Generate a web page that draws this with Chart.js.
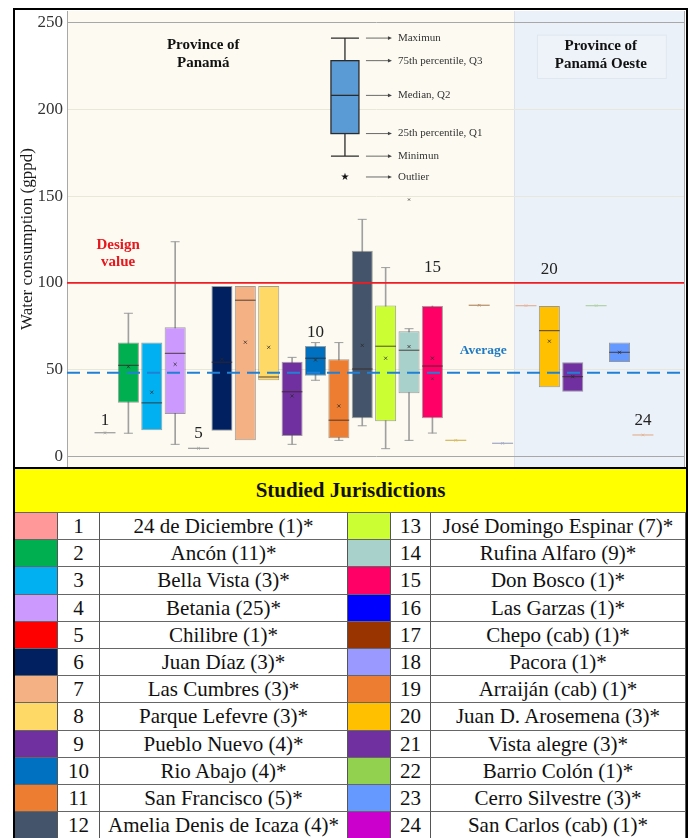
<!DOCTYPE html>
<html>
<head>
<meta charset="utf-8">
<title>Water consumption by jurisdiction</title>
<script src="https://cdn.jsdelivr.net/npm/chart.js@4.4.1/dist/chart.umd.min.js"></script>
<style>
  html, body { margin: 0; padding: 0; background: #fff; }
  body { width: 691px; height: 838px; position: relative; overflow: hidden;
         font-family: "Liberation Serif", "Times New Roman", serif; color: #111; }
  #chartWrap { position: absolute; left: 0; top: 0; width: 691px; height: 467px; }
  #frame { position: absolute; left: 13px; top: 8px; width: 675px; height: 834px;
           border: 2px solid #000; box-sizing: border-box; pointer-events: none; }
  #legendGrid { position: absolute; left: 15px; top: 467px; width: 671px;
                display: grid; grid-template-columns: 43px 42px 248px 43px 40px 255px;
                grid-template-rows: 44px repeat(12, 27.2px);
                border-top: 2px solid #000; }
  #legendGrid div { box-sizing: border-box; border-right: 1px solid #555; border-bottom: 1px solid #666;
                    text-align: center; font-size: 21px; line-height: 26px; white-space: nowrap; overflow: hidden; }
  #legendGrid .head { grid-column: 1 / 7; background: #ffff00; font-weight: bold; font-size: 21px;
                      line-height: 43px; border-right: none; }
</style>
</head>
<body>
<div id="chartWrap"><canvas id="chart" width="691" height="467"></canvas></div>
<div id="legendGrid"></div>
<div id="frame"></div>
<script>
// ---- jurisdictions and sample counts ----
const categories = [
  "24 de Diciembre", "Ancón", "Bella Vista", "Betania", "Chilibre", "Juan Díaz",
  "Las Cumbres", "Parque Lefevre", "Pueblo Nuevo", "Rio Abajo", "San Francisco", "Amelia Denis de Icaza",
  "José Domingo Espinar", "Rufina Alfaro", "Don Bosco", "Las Garzas", "Chepo (cab)", "Pacora",
  "Arraiján (cab)", "Juan D. Arosemena", "Vista alegre", "Barrio Colón", "Cerro Silvestre", "San Carlos (cab)"
];
const sampleSizes = [1, 11, 3, 25, 1, 3, 3, 3, 4, 4, 5, 4, 7, 9, 1, 1, 1, 1, 1, 3, 3, 1, 3, 1];

// ---- box statistics, water consumption in gppd ----
const minValues    = [13.7, 13.4, 15.1,   7.0, 4.7, 14.9,  9.3, 43.9,  7.0, 43.9,  9.3,  17.7,   4.5,  9.3, 13.5, 9.3, 87.1, 7.6, 86.9, 39.9, 37.3, 86.9, 54.4, 12.4];
const q1Values     = [13.7, 31.0, 15.1,  24.5, 4.7, 14.9,  9.3, 43.9, 11.8, 46.5, 10.5,  22.0,  20.3, 36.4, 22.0, 9.3, 87.1, 7.6, 86.9, 39.9, 37.3, 86.9, 54.4, 12.4];
const medianValues = [13.7, 52.5, 30.9,  59.4, 4.7, 54.3, 90.0, 45.8, 37.3, 56.6, 20.9,  50.4,  63.5, 61.2, 52.1, 9.3, 87.1, 7.6, 86.9, 72.5, 46.0, 86.9, 60.0, 12.4];
const q3Values     = [13.7, 65.6, 65.6,  74.4, 4.7, 98.2, 98.2, 98.2, 54.6, 63.7, 56.0, 118.5,  86.9, 72.1, 86.7, 9.3, 87.1, 7.6, 86.9, 86.7, 54.3, 86.9, 65.6, 12.4];
const maxValues    = [13.7, 82.5, 65.6, 123.7, 4.7, 98.2, 98.2, 98.2, 57.1, 65.6, 65.6, 136.6, 108.8, 73.6, 86.7, 9.3, 87.1, 7.6, 86.9, 86.7, 54.3, 86.9, 65.6, 12.4];
const meanValues   = [13.7, 51.7, 37.0,  53.1, 4.7, 56.0, 65.8, 62.9, 34.9, 55.6, 29.1,  64.0,  56.6, 63.3, 56.6, 9.3, 87.1, 7.6, 86.9, 66.4, 46.0, 86.9, 60.0, 12.4];
const outlierPoints = [{ x: 14, y: 148.0 }, { x: 15, y: 44.8 }];

// reference levels
const designValue = 100;
const averageValue = 48.3;
const yTicks = [0, 50, 100, 150, 200, 250];

// key box (explanatory sketch): min, Q1, median, Q3, max, outlier
const keyStats = [173, 186, 208, 228, 241];
const keyOutlier = 161;
const keyLabels = ["Minimun", "25th percentile, Q1", "Median, Q2", "75th percentile, Q3", "Maximun"];

// ---- styling ----
const boxColors = [
  "#ff9999", "#00b050", "#00b0f0", "#cc99ff", "#ff0000", "#002060",
  "#f4b183", "#ffd966", "#7030a0", "#0070c0", "#ed7d31", "#44546a",
  "#ccff33", "#a9d1cc", "#ff0066", "#0000ff", "#993300", "#9999ff",
  "#ed7d31", "#ffc000", "#7030a0", "#92d050", "#6699ff", "#cc00cc"
];
// tint used for the flat (single-sample) markers on the plot
const flatTints = {
  1: "#a0a0a0", 5: "#a0a0a0", 16: "#d6bd66", 17: "#b99370",
  18: "#a6abc8", 19: "#e6b6a2", 22: "#b4d3ac", 24: "#e2b69e"
};
const X_MIN = -0.625, X_MAX = 25.8, REGION_SPLIT = 18.49;
const SERIF = '"Liberation Serif", "Times New Roman", serif';

// ---- derived datasets ----
const idx = categories.map((_, i) => i + 1);
const isFlat = i => minValues[i] === maxValues[i];
const boxIdx = idx.filter(n => !isFlat(n - 1));
const flatIdx = idx.filter(n => isFlat(n - 1));
const whiskIdx = boxIdx.filter(n => minValues[n - 1] < q1Values[n - 1] || maxValues[n - 1] > q3Values[n - 1]);

const whiskerData = whiskIdx.map(n => ({ x: n, y: [minValues[n - 1], maxValues[n - 1]] }));
const capData = [];
whiskIdx.forEach(n => {
  if (minValues[n - 1] < q1Values[n - 1]) capData.push({ x: n, y: minValues[n - 1] });
  if (maxValues[n - 1] > q3Values[n - 1]) capData.push({ x: n, y: maxValues[n - 1] });
});
const boxData = boxIdx.map(n => ({ x: n, y: [q1Values[n - 1], q3Values[n - 1]] }));
const medianData = boxIdx.map(n => ({ x: n, y: medianValues[n - 1] }));
const meanData = boxIdx.map(n => ({ x: n, y: meanValues[n - 1] }));
const flatData = flatIdx.map(n => ({ x: n, y: medianValues[n - 1] }));

// ---- decorations drawn with the chart's scales ----
const scenery = {
  id: 'scenery',
  beforeDraw(chart, args, o) {
    const { ctx, chartArea: a, scales: { x, y } } = chart;
    ctx.save();
    ctx.fillStyle = '#ffffff';
    ctx.fillRect(0, 0, chart.width, chart.height);
    const s = x.getPixelForValue(o.split);
    ctx.fillStyle = '#fdfbf1';
    ctx.fillRect(a.left, a.top, s - a.left, a.bottom - a.top);
    ctx.fillStyle = '#ebf1f8';
    ctx.fillRect(s, a.top, a.right - s, a.bottom - a.top);
    ctx.strokeStyle = '#dde2ea';
    ctx.lineWidth = 1;
    ctx.beginPath(); ctx.moveTo(Math.round(s) + 0.5, a.top); ctx.lineTo(Math.round(s) + 0.5, a.bottom); ctx.stroke();
    // heading panel in the right region
    const px0 = x.getPixelForValue(o.oestePanel[0]), px1 = x.getPixelForValue(o.oestePanel[1]);
    const py0 = y.getPixelForValue(o.oestePanel[2]), py1 = y.getPixelForValue(o.oestePanel[3]);
    ctx.fillStyle = '#eef3fa';
    ctx.fillRect(px0, py0, px1 - px0, py1 - py0);
    ctx.strokeStyle = '#e1e7ef';
    ctx.strokeRect(px0 + 0.5, py0 + 0.5, px1 - px0, py1 - py0);
    ctx.restore();
  },
  afterDatasetsDraw(chart, args, o) {
    const { ctx, chartArea: a, scales: { x, y } } = chart;
    ctx.save();
    // right edge of the plot
    ctx.strokeStyle = '#a8a8a8';
    ctx.lineWidth = 1;
    ctx.beginPath(); ctx.moveTo(a.right - 0.5, a.top); ctx.lineTo(a.right - 0.5, a.bottom); ctx.stroke();

    // text notes
    ctx.textAlign = 'center';
    ctx.textBaseline = 'middle';
    o.notes.forEach(n => {
      ctx.font = n.font;
      ctx.fillStyle = n.color;
      const cx = x.getPixelForValue(n.x);
      const cy = y.getPixelForValue(n.y);
      n.lines.forEach((t, k) => ctx.fillText(t, cx, cy + k * (n.gap || 0)));
    });

    // key box sketch
    const cx = x.getPixelForValue(o.keyX);
    const hw = 14;
    const [kMin, kQ1, kMed, kQ3, kMax] = keyStats.map(v => y.getPixelForValue(v));
    ctx.strokeStyle = '#2b2b2b';
    ctx.lineWidth = 1.3;
    ctx.beginPath();
    ctx.moveTo(cx, kMax); ctx.lineTo(cx, kQ3);
    ctx.moveTo(cx, kQ1); ctx.lineTo(cx, kMin);
    ctx.moveTo(cx - hw, kMax); ctx.lineTo(cx + hw, kMax);
    ctx.moveTo(cx - hw, kMin); ctx.lineTo(cx + hw, kMin);
    ctx.stroke();
    ctx.fillStyle = '#5b9bd5';
    ctx.fillRect(cx - hw, kQ3, 2 * hw, kQ1 - kQ3);
    ctx.strokeRect(cx - hw, kQ3, 2 * hw, kQ1 - kQ3);
    ctx.beginPath(); ctx.moveTo(cx - hw, kMed); ctx.lineTo(cx + hw, kMed); ctx.stroke();
    const kOut = y.getPixelForValue(keyOutlier);
    ctx.fillStyle = '#111';
    ctx.font = '10px "DejaVu Sans", sans-serif';
    ctx.fillText('★', cx, kOut);

    const rows = [[kMax, keyLabels[4]], [kQ3, keyLabels[3]], [kMed, keyLabels[2]],
                  [kQ1, keyLabels[1]], [kMin, keyLabels[0]], [kOut, 'Outlier']];
    ctx.font = '11px ' + SERIF;
    ctx.textAlign = 'left';
    rows.forEach(([py, label]) => {
      const x0 = cx + 21, x1 = cx + 45;
      ctx.strokeStyle = '#444';
      ctx.lineWidth = 0.8;
      ctx.beginPath(); ctx.moveTo(x0, py); ctx.lineTo(x1, py); ctx.stroke();
      ctx.fillStyle = '#444';
      ctx.beginPath(); ctx.moveTo(x1 + 2, py); ctx.lineTo(x1 - 2, py - 1.8); ctx.lineTo(x1 - 2, py + 1.8); ctx.closePath(); ctx.fill();
      ctx.fillStyle = '#333';
      ctx.fillText(label, cx + 53, py);
    });
    ctx.restore();
  }
};

// ---- table of studied jurisdictions ----
(function buildTable() {
  const grid = document.getElementById('legendGrid');
  const head = document.createElement('div');
  head.className = 'head';
  head.textContent = 'Studied Jurisdictions';
  grid.appendChild(head);
  const half = categories.length / 2;
  for (let r = 0; r < half; r++) {
    [r, r + half].forEach(i => {
      const sw = document.createElement('div');
      sw.style.background = boxColors[i];
      const num = document.createElement('div');
      num.textContent = String(i + 1);
      const name = document.createElement('div');
      name.textContent = categories[i] + ' (' + sampleSizes[i] + ')*';
      grid.appendChild(sw); grid.appendChild(num); grid.appendChild(name);
    });
  }
})();

// scales keep the plot area exactly where the layout padding puts it
const noOverflow = s => { s.paddingTop = 0; s.paddingBottom = 0; s.paddingLeft = 0; s.paddingRight = 0; };

// ---- chart ----
const darkStroke = 'rgba(80,80,80,0.55)';
new Chart(document.getElementById('chart'), {
  type: 'bar',
  data: {
    datasets: [
      {
        type: 'line', label: 'Design value',
        data: [{ x: X_MIN, y: designValue }, { x: X_MAX, y: designValue }],
        borderColor: '#ee1d23', borderWidth: 1.6, pointRadius: 0, order: 0
      },
      {
        type: 'line', label: 'Average',
        data: [{ x: X_MIN, y: averageValue }, { x: X_MAX, y: averageValue }],
        borderColor: '#1f80d6', borderWidth: 2, borderDash: [13, 7], pointRadius: 0, order: 0
      },
      {
        type: 'scatter', label: 'Mean',
        data: meanData,
        pointStyle: 'crossRot', pointRadius: 2.2, pointBorderWidth: 0.9,
        pointBorderColor: 'rgba(40,40,40,0.8)', pointBackgroundColor: 'transparent', order: 1
      },
      {
        type: 'scatter', label: 'Outliers',
        data: outlierPoints,
        pointStyle: 'crossRot', pointRadius: 1.6, pointBorderWidth: 0.9,
        pointBorderColor: 'rgba(60,60,60,0.8)', order: 1
      },
      {
        type: 'scatter', label: 'Median',
        data: medianData,
        pointStyle: 'line', pointRadius: 10.3, pointBorderWidth: 1.2,
        pointBorderColor: 'rgba(55,40,35,0.7)', order: 2
      },
      {
        type: 'scatter', label: 'Single sample',
        data: flatData,
        pointStyle: 'line', pointRadius: 10.5, pointBorderWidth: 1.3,
        pointBorderColor: flatIdx.map(n => flatTints[n]), order: 2
      },
      {
        type: 'scatter', label: 'Single sample mean',
        data: flatData,
        pointStyle: 'crossRot', pointRadius: 1.8, pointBorderWidth: 0.9,
        pointBorderColor: flatIdx.map(n => flatTints[n]), order: 1
      },
      {
        type: 'bar', label: 'Q1–Q3',
        data: boxData,
        backgroundColor: boxIdx.map(n => boxColors[n - 1]),
        borderColor: darkStroke, borderWidth: 1, borderSkipped: false,
        grouped: false, barPercentage: 0.9, categoryPercentage: 1.0, order: 3
      },
      {
        type: 'scatter', label: 'Whisker caps',
        data: capData,
        pointStyle: 'line', pointRadius: 4.5, pointBorderWidth: 1,
        pointBorderColor: '#9c9c9c', order: 4
      },
      {
        type: 'bar', label: 'Whiskers',
        data: whiskerData,
        backgroundColor: '#a0a0a0', barThickness: 1,
        grouped: false, order: 5
      }
    ]
  },
  options: {
    responsive: false,
    animation: false,
    events: [],
    layout: { autoPadding: false, padding: { left: 13, top: 11, right: 6, bottom: 0 } },
    plugins: {
      legend: { display: false },
      tooltip: { enabled: false },
      scenery: {
        split: REGION_SPLIT,
        keyX: 11.26,
        oestePanel: [19.47, 24.98, 243, 218],
        notes: [
          { lines: ['Province of', 'Panamá'], x: 5.2, y: 236.8, gap: 18, font: 'bold 15px ' + SERIF, color: '#111' },
          { lines: ['Province of', 'Panamá Oeste'], x: 22.2, y: 236.3, gap: 18, font: 'bold 15px ' + SERIF, color: '#111' },
          { lines: ['Design', 'value'], x: 1.56, y: 121.6, gap: 17, font: 'bold 15px ' + SERIF, color: '#e8161d' },
          { lines: ['Average'], x: 17.17, y: 61.2, font: 'bold 13.5px ' + SERIF, color: '#1f78c1' },
          { lines: ['1'], x: 1, y: 21, font: '17px ' + SERIF, color: '#222' },
          { lines: ['5'], x: 5, y: 13, font: '17px ' + SERIF, color: '#222' },
          { lines: ['10'], x: 10, y: 71.2, font: '17px ' + SERIF, color: '#222' },
          { lines: ['15'], x: 15, y: 108.6, font: '17px ' + SERIF, color: '#222' },
          { lines: ['20'], x: 20, y: 107.9, font: '17px ' + SERIF, color: '#222' },
          { lines: ['24'], x: 24, y: 20.5, font: '17px ' + SERIF, color: '#222' }
        ]
      }
    },
    scales: {
      x: { type: 'linear', min: X_MIN, max: X_MAX, display: false, offset: false, afterFit: noOverflow },
      y: {
        min: -6.05, max: 256.6,
        afterBuildTicks: s => { s.ticks = yTicks.map(v => ({ value: v })); },
        afterFit: s => { s.width = 54; noOverflow(s); },
        grid: {
          drawTicks: false,
          color: c => (c.tick && (c.tick.value === 0 || c.tick.value === 250)) ? '#a8a8a8' : '#e9e6da',
          lineWidth: 1
        },
        border: { display: true, color: '#a8a8a8' },
        ticks: { padding: 4, color: '#333', font: { family: SERIF, size: 17 } },
        title: {
          display: true, text: 'Water consumption (gppd)', color: '#1a1a1a',
          font: { family: SERIF, size: 17 }, padding: { top: 4, bottom: 0 }
        }
      }
    }
  },
  plugins: [scenery]
});
</script>
</body>
</html>
